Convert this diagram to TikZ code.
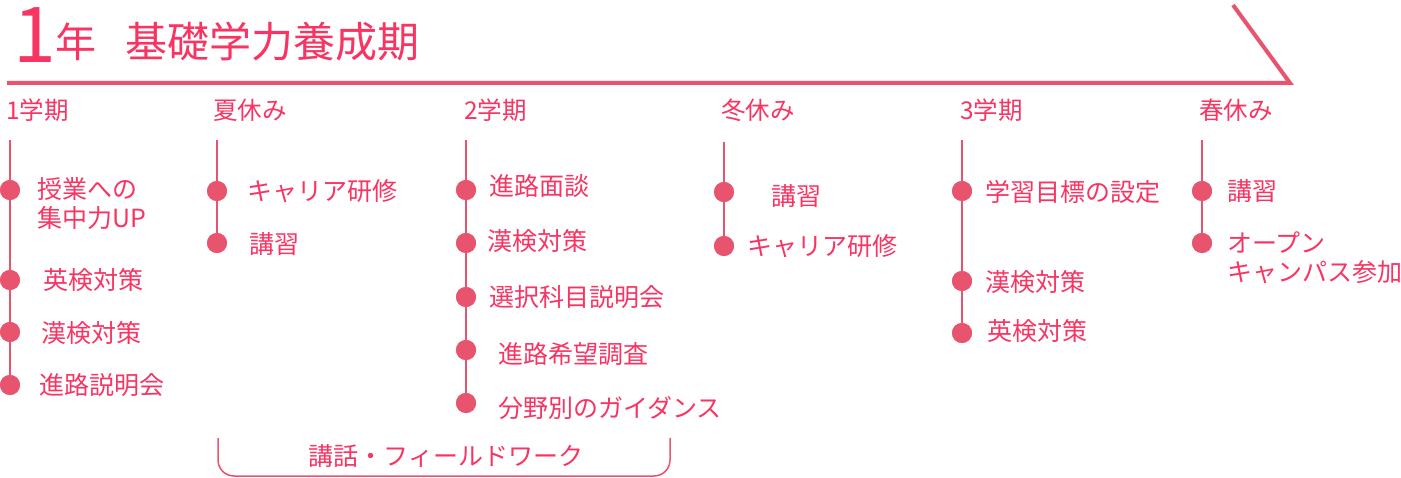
\documentclass[tikz,border=0pt]{standalone}
\usepackage{fontspec}
\setmainfont{Noto Sans CJK JP}
\definecolor{linecol}{RGB}{232,84,110}
\definecolor{textcol}{RGB}{248,52,98}
\begin{document}
\begin{tikzpicture}[x=1pt,y=-1pt,
  vline/.style={draw=linecol,line width=2pt},
  dot/.style={circle,fill=linecol,minimum size=20pt,inner sep=0pt},
  item/.style={anchor=west,inner sep=0pt,text=textcol,font=\fontsize{25}{29}\selectfont,align=left},
  head/.style={anchor=west,inner sep=0pt,text=textcol,font=\fontsize{24.5}{28}\selectfont},
  bigline/.style={draw=linecol,line width=4pt}]
\useasboundingbox (0,0) rectangle (1401,478);
% title
\node[anchor=base west,inner sep=0pt,text=textcol,text height=57pt,text depth=0pt,font=\fontsize{77}{77}\selectfont] (one) at (13,63) {1};
\node[anchor=base west,inner sep=0pt,text=textcol,font=\fontsize{41}{41}\selectfont] (nen) at (55,58) {年};
\node[anchor=base west,inner sep=0pt,text=textcol,font=\fontsize{42}{42}\selectfont] (title) at (125,58) {基礎学力養成期};
\coordinate (hl) at (7,83);
\coordinate (hr) at (1290,83);
\coordinate (dg) at (1233,5);
\draw[bigline,line join=miter] (hl) -- (hr) -- (dg);
% headers
\node[head] (h1) at (6,110) {1学期};
\node[head] (h2) at (213,110) {夏休み};
\node[head] (h3) at (464,110) {2学期};
\node[head] (h4) at (721,110) {冬休み};
\node[head] (h5) at (960,110) {3学期};
\node[head] (h6) at (1199,110) {春休み};
% column 1
\coordinate (t1) at (10,140);
\node[dot] (a1) at (10,190) {};
\node[dot] (a2) at (10,280) {};
\node[dot] (a3) at (10,332) {};
\node[dot] (a4) at (10,385) {};
\draw[vline] (t1) -- (a1) -- (a2) -- (a3) -- (a4);
\foreach \n in {a1,a2,a3,a4} \node[dot] at (\n) {};
\node[item] (ta1) at (37,204) {授業への\\集中力UP};
\node[item] (ta2) at (43,280) {英検対策};
\node[item] (ta3) at (41,333) {漢検対策};
\node[item] (ta4) at (39,385) {進路説明会};
% column 2
\coordinate (t2) at (217,140);
\node[dot] (b1) at (217,191) {};
\node[dot] (b2) at (217,243) {};
\draw[vline] (t2) -- (b1) -- (b2);
\foreach \n in {b1,b2} \node[dot] at (\n) {};
\node[item] (tb1) at (247,191) {キャリア研修};
\node[item] (tb2) at (249,244) {講習};
% column 3
\coordinate (t3) at (466,140);
\node[dot] (c1) at (466,190) {};
\node[dot] (c2) at (466,243) {};
\node[dot] (c3) at (466,297) {};
\node[dot] (c4) at (466,350) {};
\node[dot] (c5) at (466,403) {};
\draw[vline] (t3) -- (c1) -- (c2) -- (c3) -- (c4) -- (c5);
\foreach \n in {c1,c2,c3,c4,c5} \node[dot] at (\n) {};
\node[item] (tc1) at (489,186) {進路面談};
\node[item] (tc2) at (487,241) {漢検対策};
\node[item] (tc3) at (489,297) {選択科目説明会};
\node[item] (tc4) at (498,354) {進路希望調査};
\node[item] (tc5) at (498,408) {分野別のガイダンス};
% column 4
\coordinate (t4) at (724,142);
\node[dot] (d1) at (724,192) {};
\node[dot] (d2) at (724,246) {};
\draw[vline] (t4) -- (d1) -- (d2);
\foreach \n in {d1,d2} \node[dot] at (\n) {};
\node[item] (td1) at (771,196) {講習};
\node[item] (td2) at (747,246) {キャリア研修};
% column 5
\coordinate (t5) at (962,140);
\node[dot] (e1) at (962,191) {};
\node[dot] (e2) at (962,281) {};
\node[dot] (e3) at (962,333) {};
\draw[vline] (t5) -- (e1) -- (e2) -- (e3);
\foreach \n in {e1,e2,e3} \node[dot] at (\n) {};
\node[item] (te1) at (985,192) {学習目標の設定};
\node[item] (te2) at (985,282) {漢検対策};
\node[item] (te3) at (987,331) {英検対策};
% column 6
\coordinate (t6) at (1202,140);
\node[dot] (f1) at (1202,191) {};
\node[dot] (f2) at (1202,243) {};
\draw[vline] (t6) -- (f1) -- (f2);
\foreach \n in {f1,f2} \node[dot] at (\n) {};
\node[item] (tf1) at (1227,191) {講習};
\node[item] (tf2) at (1227,258) {オープン\\キャンパス参加};
% bracket
\coordinate (bl) at (218,438);
\coordinate (bll) at (218,476);
\coordinate (brr) at (670,476);
\coordinate (br) at (670,438);
\draw[draw=linecol,line width=1.5pt,rounded corners=16pt] (bl) -- (bll) -- (brr) -- (br);
\node[anchor=center,inner sep=0pt,text=textcol,font=\fontsize{25}{29}\selectfont] (fw) at (446,456) {講話・フィールドワーク};
\end{tikzpicture}
\end{document}
